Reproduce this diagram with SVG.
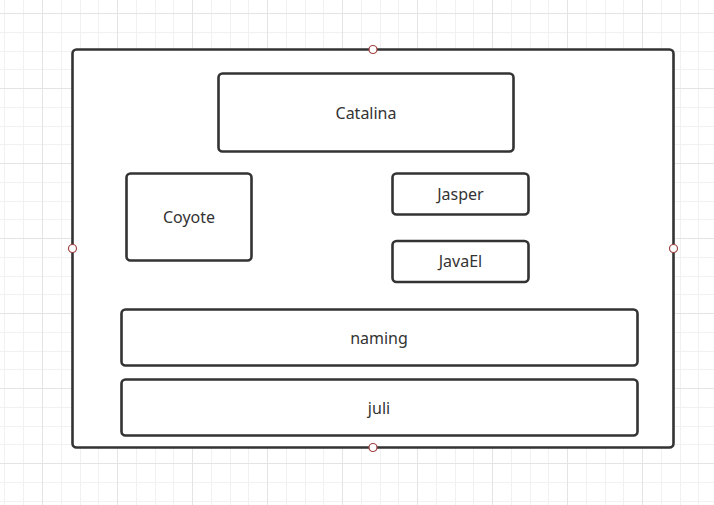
<svg xmlns="http://www.w3.org/2000/svg" width="714" height="505" viewBox="0 0 714 505">
<defs>
<style>
.minor{stroke:#f1f1f1;stroke-width:1;fill:none}
.major{stroke:#e4e4e4;stroke-width:1;fill:none}
.box{fill:#ffffff;stroke:#333333;stroke-width:2.6}
.lbl{font-family:"Noto Sans","Open Sans","Liberation Sans",sans-serif;font-size:16px;fill:#333333;text-anchor:middle}
.handle{fill:#ffffff;stroke:#a04040;stroke-width:1.2}
</style>
</defs>
<rect x="0" y="0" width="714" height="505" fill="#ffffff"/>
<g id="grid">
<path class="minor" d="M4.5 0V505M23.5 0V505M61.5 0V505M80.5 0V505M98.5 0V505M136.5 0V505M155.5 0V505M173.5 0V505M211.5 0V505M230.5 0V505M248.5 0V505M286.5 0V505M305.5 0V505M323.5 0V505M361.5 0V505M380.5 0V505M398.5 0V505M436.5 0V505M455.5 0V505M473.5 0V505M511.5 0V505M530.5 0V505M548.5 0V505M586.5 0V505M605.5 0V505M623.5 0V505M661.5 0V505M680.5 0V505M698.5 0V505"/>
<path class="minor" d="M0 32.5H714M0 51.5H714M0 69.5H714M0 107.5H714M0 126.5H714M0 144.5H714M0 182.5H714M0 201.5H714M0 219.5H714M0 257.5H714M0 276.5H714M0 294.5H714M0 332.5H714M0 351.5H714M0 369.5H714M0 407.5H714M0 426.5H714M0 444.5H714M0 482.5H714M0 501.5H714"/>
<path class="major" d="M42.5 0V505M117.5 0V505M192.5 0V505M267.5 0V505M342.5 0V505M417.5 0V505M492.5 0V505M567.5 0V505M642.5 0V505M0 13.5H714M0 88.5H714M0 163.5H714M0 238.5H714M0 313.5H714M0 388.5H714M0 463.5H714"/>
</g>
<g id="container">
<rect class="box" x="72.5" y="49.5" width="601" height="398" rx="4"/>
</g>
<g id="catalina">
<rect class="box" x="218.5" y="73.5" width="295" height="78" rx="4"/>
<text class="lbl" x="366" y="118.5">Catalina</text>
</g>
<g id="coyote">
<rect class="box" x="126.5" y="173.5" width="125" height="87" rx="4"/>
<text class="lbl" x="189" y="222.5">Coyote</text>
</g>
<g id="jasper">
<rect class="box" x="392.5" y="173.5" width="136" height="41" rx="4"/>
<text class="lbl" x="460.5" y="199.5">Jasper</text>
</g>
<g id="javael">
<rect class="box" x="392.5" y="241" width="136" height="41" rx="4"/>
<text class="lbl" x="460.5" y="267">JavaEl</text>
</g>
<g id="naming">
<rect class="box" x="121.5" y="309.5" width="516" height="56" rx="4"/>
<text class="lbl" x="379" y="343.5">naming</text>
</g>
<g id="juli">
<rect class="box" x="121.5" y="379.5" width="516" height="56" rx="4"/>
<text class="lbl" x="379" y="413.5">juli</text>
</g>
<g id="connectors"></g>
<g id="handles">
<circle class="handle" cx="373" cy="49.5" r="4"/>
<circle class="handle" cx="72.5" cy="248.5" r="4"/>
<circle class="handle" cx="673.5" cy="248.5" r="4"/>
<circle class="handle" cx="373" cy="447.5" r="4"/>
</g>
</svg>
